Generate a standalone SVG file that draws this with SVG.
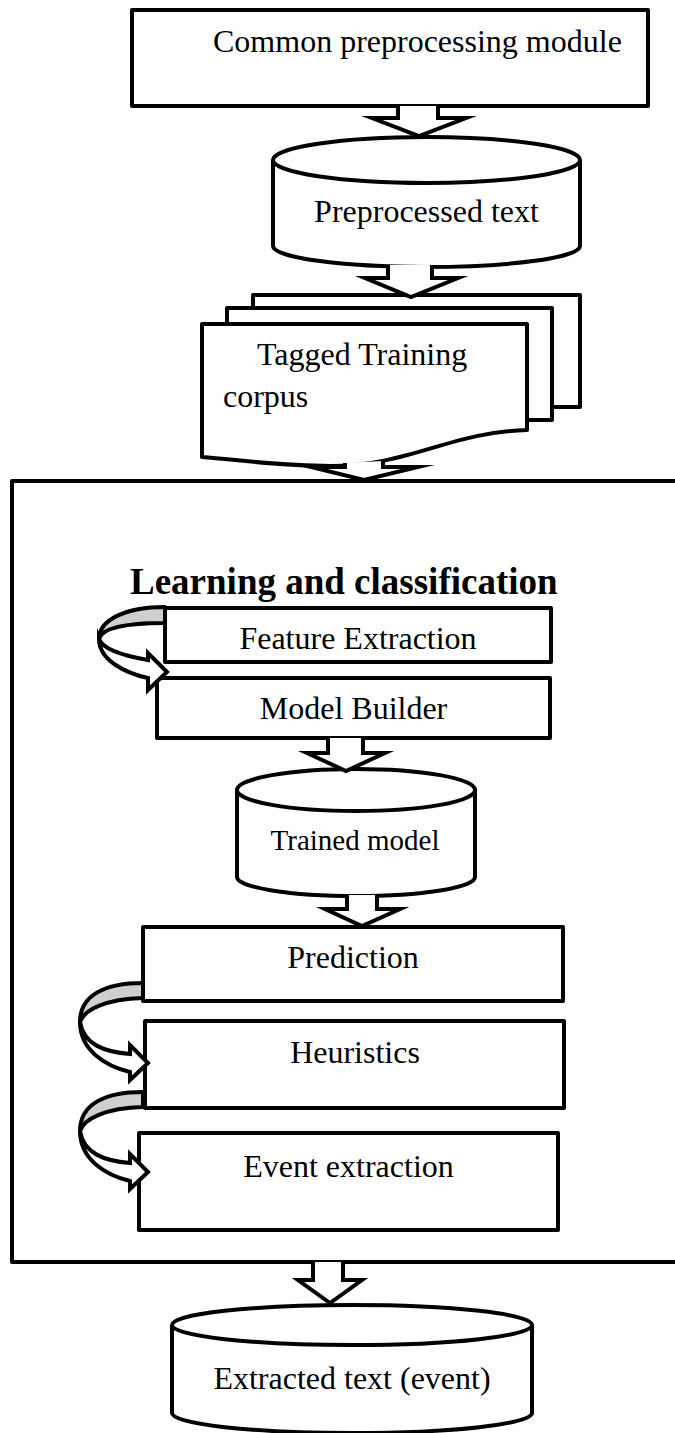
<svg xmlns="http://www.w3.org/2000/svg" width="675" height="1433" viewBox="0 0 675 1433">
<style>
.ln{fill:#fff;stroke:#000;stroke-width:4;stroke-linejoin:round}
.ar{fill:#fff;stroke:#000;stroke-width:4;stroke-linejoin:miter;stroke-miterlimit:10}
.gr{fill:#cfcfcf;stroke:#000;stroke-width:4;stroke-linejoin:round}
.t{font-family:"Liberation Serif","Times New Roman",serif;font-size:32px;fill:#000}
.c{text-anchor:middle}
.h{font-family:"Liberation Serif","Times New Roman",serif;font-size:37px;font-weight:bold;fill:#000}
</style>
<rect width="675" height="1433" fill="#fff"/>
<g id="container">
<rect class="ln" x="12" y="481" width="672" height="781"/>
<text class="h" x="130" y="594">Learning and classification</text>
</g>
<g id="preprocessing-module">
<rect class="ln" x="132" y="10" width="516" height="96"/>
<text class="t" x="213" y="52">Common preprocessing module</text>
</g>
<g id="preprocessed-text">
<path class="ln" d="M273 160 L273 246 A153.5 21 0 0 0 580 246 L580 160"/>
<ellipse class="ln" cx="426.5" cy="160" rx="153.5" ry="23"/>
<text class="t c" x="426.5" y="222">Preprocessed text</text>
</g>
<g id="tagged-training-corpus">
<rect class="ln" x="253" y="295" width="327" height="112"/>
<rect class="ln" x="227" y="308" width="325" height="112"/>
<path class="ln" d="M202 324 L527 324 L527 430 C450 432 410 466 330 466 C280 466 240 460 202 457 Z"/>
<text class="t" x="257" y="365">Tagged Training</text>
<text class="t" x="223" y="407">corpus</text>
</g>
<g id="feature-extraction">
<rect class="ln" x="165" y="608" width="386" height="54"/>
<text class="t c" x="358" y="649">Feature Extraction</text>
</g>
<g id="model-builder">
<rect class="ln" x="157" y="678" width="393" height="60"/>
<text class="t c" x="353.5" y="719">Model Builder</text>
</g>
<g id="trained-model">
<path class="ln" d="M237 790 L237 877 A119 19 0 0 0 475 877 L475 790"/>
<ellipse class="ln" cx="356" cy="790" rx="119" ry="21"/>
<text class="t c" x="355" y="850" style="font-size:29px">Trained model</text>
</g>
<g id="prediction">
<rect class="ln" x="143" y="927" width="420" height="74"/>
<text class="t c" x="353" y="968">Prediction</text>
</g>
<g id="heuristics">
<rect class="ln" x="145" y="1021" width="419" height="87"/>
<text class="t c" x="355" y="1063">Heuristics</text>
</g>
<g id="event-extraction">
<rect class="ln" x="139" y="1133" width="419" height="97"/>
<text class="t c" x="348.5" y="1177">Event extraction</text>
</g>
<g id="extracted-text">
<path class="ln" d="M172 1325 L172 1413 A180 20 0 0 0 532 1413 L532 1325"/>
<ellipse class="ln" cx="352" cy="1325" rx="180" ry="20"/>
<text class="t c" x="352" y="1389">Extracted text (event)</text>
</g>
<g id="connectors">
<path class="ar" d="M398 106 L398 118 L372 118 L419 136 L466 118 L438 118 L438 106"/>
<path class="ar" d="M388 265 L388 278 L365 278 L411 297 L458 278 L432 278 L432 265"/>
<path class="ar" d="M345 463 L345 467 L311 467 L364 480 L418 467 L383 467 L383 461"/>
<path class="ar" d="M328 738 L328 753 L307 753 L346 771 L385 753 L363 753 L363 738"/>
<path class="ar" d="M347 895 L347 909 L325 909 L362 926 L400 909 L377 909 L377 895"/>
<path class="ar" d="M313 1262 L313 1280 L298 1280 L330 1303 L362 1280 L343 1280 L343 1262"/>
<g id="loop-feature-model">
<path class="gr" d="M165 607 C125 607 99 620 99 639 C102 628 125 623 165 623 Z"/>
<path class="ar" d="M99 639 C99 660 125 673 148 678 L148 690 L167 672 L148 653 L148 660 C125 656 103 650 99 639 Z"/>
</g>
<g id="loop-prediction-heuristics">
<path class="gr" d="M143 983 C105 983 80 995 80 1022 C84 1010 105 999 143 998 Z"/>
<path class="ar" d="M80 1022 C80 1050 105 1066 130 1072 L130 1080 L148 1063 L130 1045 L130 1054 C105 1052 84 1045 80 1022 Z"/>
</g>
<g id="loop-heuristics-event" transform="translate(0,109)">
<path class="gr" d="M143 983 C105 983 80 995 80 1022 C84 1010 105 999 143 998 Z"/>
<path class="ar" d="M80 1022 C80 1050 105 1066 130 1072 L130 1080 L148 1063 L130 1045 L130 1054 C105 1052 84 1045 80 1022 Z"/>
</g>
</g>
</svg>
